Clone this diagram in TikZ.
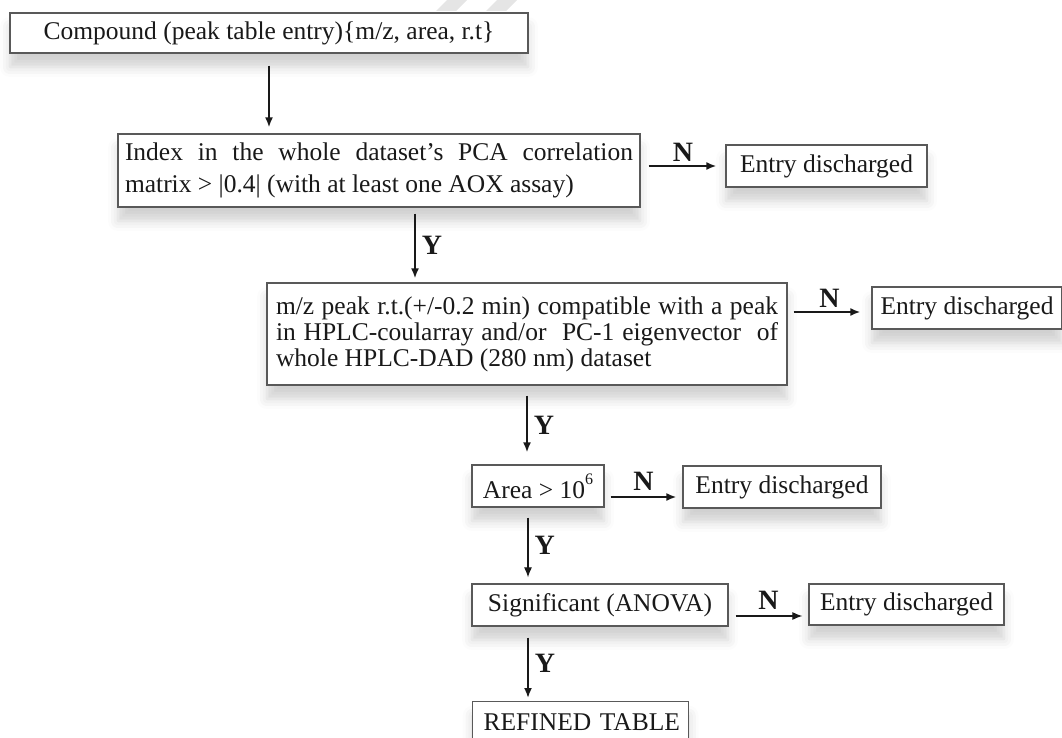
\documentclass[tikz,border=0pt]{standalone}
\usepackage{fontspec}
\setmainfont{Liberation Serif}
\usetikzlibrary{arrows.meta,positioning,shadows.blur}
\tikzset{>={Latex[length=10pt,width=8pt]}}
\tikzstyle{blk}=[draw=black!65,line width=1.3pt,fill=white,text=black!90,inner sep=0pt,
                 font=\fontsize{25.5}{28}\selectfont,
                 blur shadow={shadow xshift=0pt,shadow yshift=-14pt,shadow blur radius=10pt,shadow opacity=18}]
\tikzstyle{arr}=[->,line width=1.8pt,black!90]

\begin{document}
\begin{tikzpicture}[x=1pt,y=-1pt,
                    lab/.style = {font=\bfseries\fontsize{28}{28}\selectfont, text=black!90, inner sep=1pt},
                    thin/.style = {line width=1.1pt}
               ]
               \useasboundingbox (0,0) rectangle (1062,738);
               % watermark
               \fill[black!10] (447,0) -- (467,0) -- (456,11) -- (436,11) -- cycle;
               \fill[black!10] (497,0) -- (517,0) -- (506,11) -- (486,11) -- cycle;

               \node[blk, minimum width=518, minimum height=40] (cmp) at (269,33)
                    {Compound (peak table entry)\{m/z, area, r.t\}};
               \node[blk, minimum width=522, minimum height=73, text width=508, align=justify,
                     font=\fontsize{25.5}{32}\selectfont] (idx) at (379,170.5)
                    {Index in the whole dataset's PCA correlation\linebreak matrix > |0.4| (with at least one AOX assay)};
               \node[blk, minimum width=201, minimum height=42] (ent1) at (826.5,166) {Entry discharged};

               \node[blk, minimum width=520, minimum height=102, text width=502, align=justify,
                     font=\fontsize{25.5}{26}\selectfont] (mz) at (527,334)
                    {m/z peak r.t.(+/-0.2 min) compatible with a peak\linebreak in HPLC-coularray and/or\ \ PC-1 eigenvector\ \ of\linebreak whole HPLC-DAD (280 nm) dataset};
               \node[blk, minimum width=190, minimum height=42] (ent2) at (967,308) {Entry discharged};

               \node[blk, minimum width=132, minimum height=42] (area) at (538,486)
                    {Area > 10\raisebox{0.55em}{\fontsize{16}{16}\selectfont 6}};
               \node[blk, minimum width=198, minimum height=42] (ent3) at (782,487) {Entry discharged};

               \node[blk, minimum width=256, minimum height=42] (sig) at (600,605) {Significant (ANOVA)};
               \node[blk, minimum width=195, minimum height=41] (ent4) at (906.5,604.5) {Entry discharged};

               \node[blk, text width=194, align=left, inner xsep=11pt, inner ysep=12pt,
                     anchor=north west] (ref) at (472,701) {\mbox{REFINED TABLE}};

               % x of the off-centre Y arrows
               \coordinate (c1) at (415,0);
               \coordinate (c2) at (528,0);

               % connectors
               \draw[arr, shorten <=12pt, shorten >=6pt] (cmp.south) -- (cmp.south |- idx.north);
               \draw[arr, shorten <=8pt, shorten >=9pt] (idx.east |- ent1.west) -- node[lab, above=3pt] {N} (ent1.west);
               \draw[arr, shorten <=6pt, shorten >=4pt] (idx.south -| c1) -- node[lab, right=5pt] {Y} (mz.north -| c1);

               \draw[arr, shorten <=6pt, shorten >=11pt] ([yshift=-4pt]mz.east |- ent2.west) -- node[lab, above=3pt] {N} ([yshift=-4pt]ent2.west);
               \draw[arr, shorten <=10pt, shorten >=12pt] (mz.south) -- node[lab, right=5pt] {Y} (mz.south |- area.north);

               \draw[arr, shorten <=6pt, shorten >=6pt] ([yshift=-11pt]area.east) -- node[lab, above=5pt] {N} ([yshift=-11pt]area.east -| ent3.west);
               \draw[arr, thin, shorten <=10pt, shorten >=6pt] (area.south -| c2) -- node[lab, right=5pt] {Y} (sig.north -| c2);

               \draw[arr, thin, shorten <=7pt, shorten >=6pt] ([yshift=-11pt]sig.east) -- node[lab, above=5pt] {N} ([yshift=-11pt]sig.east -| ent4.west);
               \draw[arr, shorten <=11pt, shorten >=3pt] (sig.south -| c2) -- node[lab, right=5pt] {Y} (ref.north -| c2);
          \end{tikzpicture}
\end{document}
